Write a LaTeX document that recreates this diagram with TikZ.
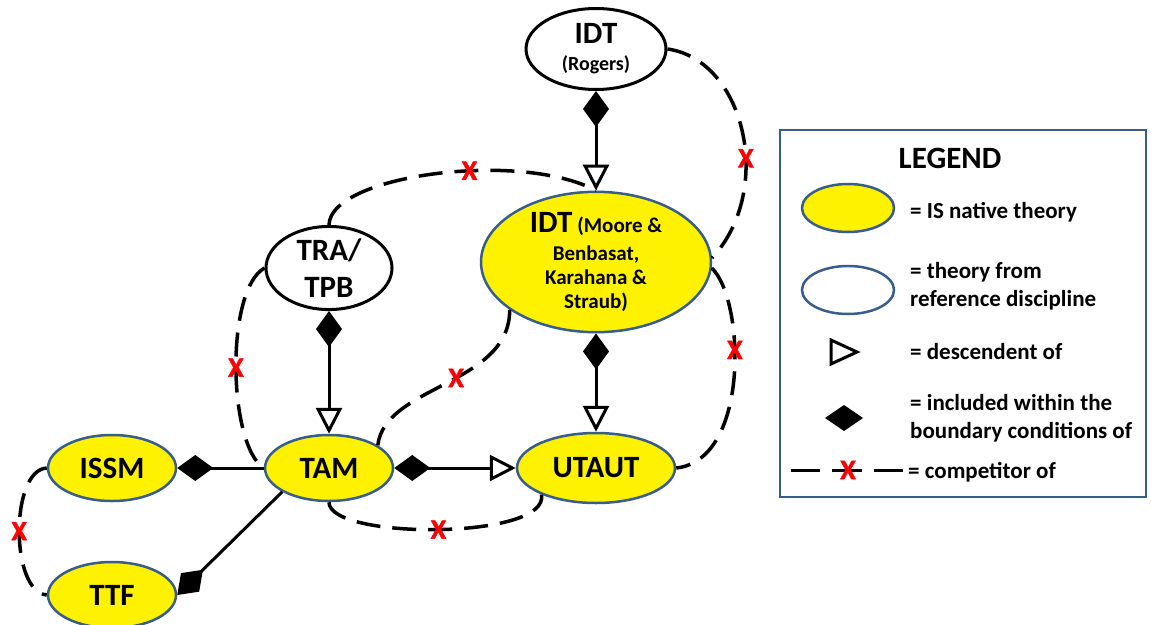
\documentclass[tikz,border=0pt]{standalone}
\usepackage{fontspec}
\setmainfont{Carlito}
\newfontfamily\crossfont[FakeBold=1.6]{Carlito Bold}
\usetikzlibrary{shapes.geometric,arrows.meta}
\definecolor{isblue}{RGB}{56,93,138}
\begin{document}
\begin{tikzpicture}[x=1pt,y=-1pt,
    native/.style={ellipse,draw=isblue,line width=2.5pt,fill=yellow,inner sep=0pt,align=center,font=\fontsize{31}{36}\selectfont\bfseries},
    refdisc/.style={ellipse,draw=black,line width=3pt,fill=white,inner sep=0pt,align=center,font=\fontsize{31}{37}\selectfont\bfseries},
    within/.style={line width=3pt,{Diamond[length=36pt,width=26pt]}-{Triangle[open,length=26pt,width=26pt]}},
    boundary/.style={line width=3pt,{Diamond[length=36pt,width=26pt]}-},
    rival/.style={line width=3.5pt,dash pattern=on 24pt off 12pt},
    cross/.style={text=red,inner sep=0pt,font=\fontsize{28}{28}\crossfont},
    legtext/.style={anchor=west,align=left,inner sep=0pt,font=\fontsize{23}{28}\selectfont\bfseries}]
    \useasboundingbox (0,0) rectangle (1151,624);

    % theories
    \node[refdisc,minimum width=140pt,minimum height=81pt,font=\fontsize{31}{27}\selectfont\bfseries] (rogers) at (596,49) {IDT\\{\fontsize{20}{20}\selectfont (Rogers)}};
    \node[native,minimum width=230pt,minimum height=130pt,font=\fontsize{21}{24}\selectfont\bfseries] (moore) at (596,262) {{\fontsize{31}{31}\selectfont IDT} (Moore \&\\[4pt]Benbasat,\\Karahana \&\\Straub)};
    \node[refdisc,minimum width=126pt,minimum height=80pt] (trab) at (329,268) {TRA/\\TPB};
    \node[native,minimum width=128pt,minimum height=66pt] (tam) at (329,468) {TAM};
    \node[native,minimum width=158pt,minimum height=70pt] (utaut) at (596,468) {UTAUT};
    \node[native,minimum width=128pt,minimum height=66pt] (issm) at (112,468) {ISSM};
    \node[native,minimum width=128pt,minimum height=66pt] (ttf) at (112,595) {TTF};

    % descent and inclusion
    \draw[within] (rogers) -- (moore);
    \draw[within] (trab) -- (tam);
    \draw[within] (moore) -- (utaut);
    \draw[within] (tam) -- (utaut);
    \draw[boundary] (issm) -- (tam);
    \draw[boundary] (ttf.east) -- (tam.207);

    % competitors
    \draw[rival] (rogers.east) .. controls (745,60) and (775,190) .. node[cross,pos=0.6] (x1) {X} (moore.2);
    \draw[rival] (moore.-3) .. controls (745,300) and (750,460) .. node[cross,pos=0.4] (x2) {X} (utaut.east);
    \draw[rival] (trab.north) .. controls (330,175) and (520,150) .. node[cross,pos=0.6] (x3) {X} (moore.north);
    \draw[rival] (trab.west) .. controls (225,290) and (228,445) .. node[cross,pos=0.5] (x4) {X} (tam.west);
    \draw[rival] (moore.209) .. controls (510,385) and (385,385) .. node[cross,pos=0.45] (x5) {X} (tam.25);
    \draw[rival] (tam.south) .. controls (329,540) and (550,540) .. node[cross,pos=0.5] (x6) {X} (utaut.206);
    \draw[rival] (issm.west) .. controls (10,470) and (10,592) .. node[cross,pos=0.5] (x7) {X} (ttf.west);

    % legend
    \draw[isblue,line width=2.5pt] (780,130) rectangle (1146,497);
    \node[font=\fontsize{31}{31}\selectfont\bfseries] (legend) at (950,158) {LEGEND};
    \node[native,minimum width=92pt,minimum height=48pt] (lnative) at (848,208) {};
    \node[ellipse,draw=isblue,line width=2.5pt,minimum width=92pt,minimum height=48pt] (lref) at (848,290) {};
    \draw[line width=3pt,line join=miter] (831,340) -- (857,352) -- (831,364) -- cycle;
    \fill (825,418) -- (844,405) -- (863,418) -- (844,431) -- cycle;
    \draw[line width=3pt] (791,470) -- (820,470) (832,470) -- (862,470) (874,470) -- (903,470);
    \node[cross] (lx) at (848,470) {X};
    \node[legtext] (tnative) at (910,212) {= IS native theory};
    \node[legtext] (tref) at (910,286) {= theory from\\reference discipline};
    \node[legtext] (tdesc) at (910,352) {= descendent of};
    \node[legtext] (tincl) at (910,418) {= included within the\\boundary conditions of};
    \node[legtext] (trival) at (908,472) {= competitor of};
\end{tikzpicture}
\end{document}
